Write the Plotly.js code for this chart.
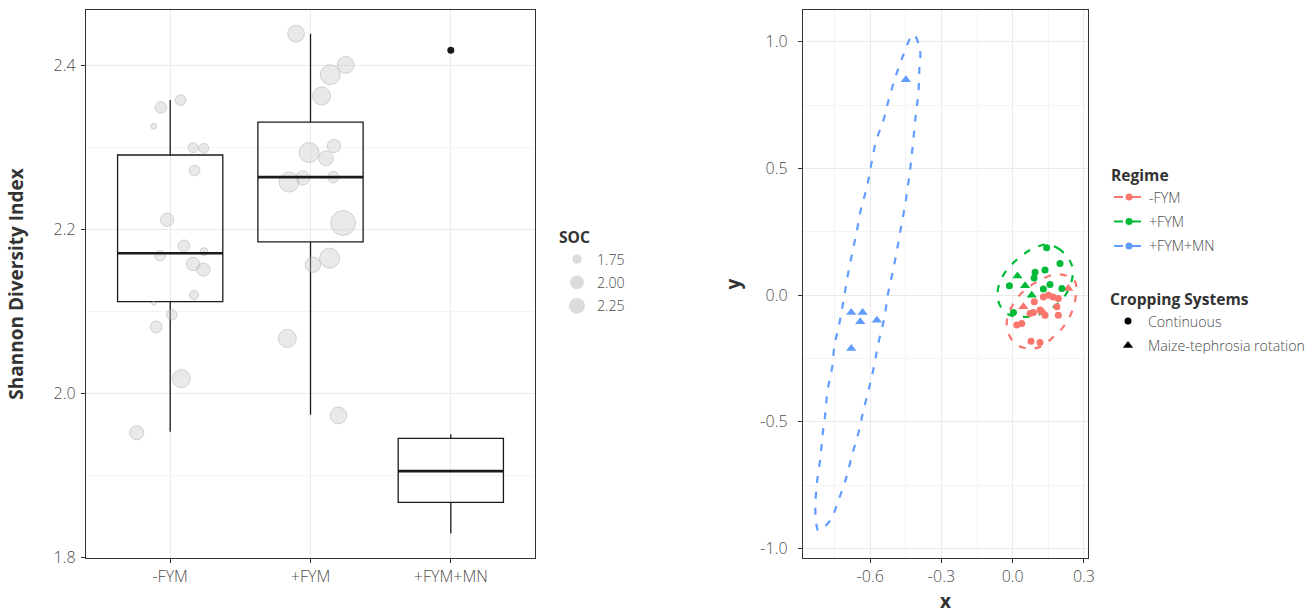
<!DOCTYPE html>
<html>
<head>
<meta charset="utf-8">
<script src="https://cdn.plot.ly/plotly-3.0.1.min.js"></script>
<style>
  html, body { margin: 0; padding: 0; background: #fff; }
  #chart { width: 1311px; height: 614px; }
</style>
</head>
<body>
<div id="chart"></div>
<script>
// ---------- Left panel: Shannon diversity by regime ----------
const regimes = ['-FYM', '+FYM', '+FYM+MN'];

// box summaries per regime
const boxLowerFence = [1.953, 1.974, 1.829];
const boxQ1 = [2.112, 2.185, 1.867];
const boxMedian = [2.171, 2.264, 1.905];
const boxQ3 = [2.291, 2.331, 1.945];
const boxUpperFence = [2.358, 2.439, 1.950];

const outlierRegime = ['+FYM+MN'];
const outlierShannon = [2.419];

// individual plots (jittered), sized by soil organic carbon
const sampleRegime = [
  '-FYM', '-FYM', '-FYM', '-FYM', '-FYM', '-FYM', '-FYM', '-FYM', '-FYM',
  '-FYM', '-FYM', '-FYM', '-FYM', '-FYM', '-FYM', '-FYM', '-FYM', '-FYM',
  '+FYM', '+FYM', '+FYM', '+FYM', '+FYM', '+FYM', '+FYM', '+FYM',
  '+FYM', '+FYM', '+FYM', '+FYM', '+FYM', '+FYM', '+FYM'
];
const sampleJitter = [
  -0.067, 0.074, -0.117, 0.163, 0.239, 0.174, -0.022, 0.098, -0.072,
  0.241, 0.163, 0.237, 0.170, -0.117, 0.010, -0.100, 0.079, -0.239,
  -0.103, 0.251, 0.141, 0.079, -0.010, 0.167, 0.110, -0.055,
  -0.153, 0.163, 0.232, 0.136, 0.017, -0.165, 0.199
];
const sampleShannon = [
  2.349, 2.358, 2.326, 2.300, 2.299, 2.272, 2.212, 2.180, 2.168,
  2.173, 2.158, 2.151, 2.120, 2.110, 2.096, 2.081, 2.018, 1.952,
  2.439, 2.401, 2.389, 2.363, 2.294, 2.302, 2.287, 2.263,
  2.258, 2.264, 2.208, 2.165, 2.157, 2.067, 1.973
];
const sampleSOC = [
  1.85, 1.81, 1.61, 1.77, 1.77, 1.81, 1.97, 1.88, 1.81,
  1.68, 1.97, 1.97, 1.74, 1.56, 1.81, 1.88, 2.34, 2.02,
  2.23, 2.23, 2.53, 2.34, 2.53, 1.97, 2.07, 2.02,
  2.53, 1.85, 3.07, 2.53, 2.12, 2.34, 2.23
];
const socBreaks = [1.75, 2.00, 2.25];

// ---------- Right panel: ordination scores ----------
const ordRegime = [
  '-FYM', '-FYM', '-FYM', '-FYM', '-FYM', '-FYM', '-FYM', '-FYM', '-FYM',
  '-FYM', '-FYM', '-FYM', '-FYM', '-FYM', '-FYM', '-FYM', '-FYM', '-FYM',
  '+FYM', '+FYM', '+FYM', '+FYM', '+FYM', '+FYM', '+FYM', '+FYM', '+FYM',
  '+FYM', '+FYM', '+FYM', '+FYM',
  '+FYM+MN', '+FYM+MN', '+FYM+MN', '+FYM+MN', '+FYM+MN', '+FYM+MN'
];
const ordSystem = [
  'Continuous', 'Continuous', 'Continuous', 'Continuous', 'Continuous',
  'Continuous', 'Continuous', 'Continuous', 'Continuous', 'Continuous',
  'Continuous', 'Continuous', 'Continuous', 'Continuous', 'Continuous',
  'Maize-tephrosia rotation', 'Maize-tephrosia rotation', 'Maize-tephrosia rotation',
  'Continuous', 'Continuous', 'Continuous', 'Continuous', 'Continuous',
  'Continuous', 'Continuous', 'Continuous', 'Continuous', 'Continuous',
  'Maize-tephrosia rotation', 'Maize-tephrosia rotation', 'Maize-tephrosia rotation',
  'Maize-tephrosia rotation', 'Maize-tephrosia rotation', 'Maize-tephrosia rotation',
  'Maize-tephrosia rotation', 'Maize-tephrosia rotation', 'Maize-tephrosia rotation'
];
const ordX = [
  0.129, 0.150, 0.170, 0.192, 0.091, 0.186, 0.192, 0.087, 0.115,
  0.073, 0.038, 0.017, 0.077, 0.115, 0.136, 0.045, 0.234, 0.128,
  0.143, 0.199, 0.094, 0.136, 0.090, 0.157, -0.014, 0.129, 0.207,
  0.003, 0.020, 0.052, 0.080,
  -0.680, -0.632, -0.642, -0.572, -0.680, -0.450
];
const ordY = [
  -0.007, 0.000, -0.007, -0.013, -0.026, -0.046, -0.079, -0.068, -0.059,
  -0.072, -0.112, -0.118, -0.182, -0.187, -0.079, -0.046, 0.026, -0.067,
  0.187, 0.125, 0.090, 0.099, 0.068, 0.042, 0.037, 0.024, 0.026,
  -0.068, 0.076, 0.037, 0.000,
  -0.068, -0.068, -0.105, -0.099, -0.210, 0.850
];

// 95% ellipse outlines per regime
const ellipseMinusFYMX = [0.263, 0.266, 0.249, 0.213, 0.171, 0.115, 0.059, 0.010, -0.018, -0.025, -0.011, 0.017, 0.059, 0.115, 0.178, 0.228, 0.263];
const ellipseMinusFYMY = [0.053, 0.000, -0.066, -0.125, -0.165, -0.204, -0.210, -0.191, -0.151, -0.105, -0.059, -0.013, 0.026, 0.059, 0.082, 0.076, 0.053];
const ellipsePlusFYMX = [0.143, 0.192, 0.234, 0.253, 0.249, 0.230, 0.199, 0.150, 0.101, 0.045, -0.011, -0.046, -0.064, -0.056, -0.025, 0.024, 0.073, 0.115, 0.143];
const ellipsePlusFYMY = [0.200, 0.184, 0.145, 0.105, 0.059, 0.013, -0.026, -0.059, -0.079, -0.086, -0.079, -0.053, -0.007, 0.046, 0.099, 0.145, 0.178, 0.195, 0.200];
const ellipsePlusFYMMNX = [-0.415, -0.390, -0.393, -0.397, -0.408, -0.428, -0.439, -0.453, -0.470, -0.488, -0.506, -0.526, -0.540, -0.565, -0.583, -0.604, -0.628, -0.649, -0.677, -0.701, -0.733, -0.768, -0.818, -0.827, -0.831, -0.824, -0.810, -0.801, -0.789, -0.780, -0.761, -0.750, -0.730, -0.712, -0.696, -0.677, -0.656, -0.639, -0.614, -0.596, -0.575, -0.544, -0.520, -0.491, -0.460, -0.425, -0.415];
const ellipsePlusFYMMNY = [1.028, 0.963, 0.895, 0.800, 0.711, 0.527, 0.446, 0.357, 0.269, 0.174, 0.088, 0.001, -0.088, -0.187, -0.276, -0.364, -0.453, -0.541, -0.633, -0.721, -0.807, -0.888, -0.929, -0.902, -0.834, -0.738, -0.644, -0.555, -0.466, -0.378, -0.289, -0.197, -0.112, -0.020, 0.071, 0.160, 0.255, 0.340, 0.426, 0.514, 0.609, 0.691, 0.779, 0.868, 0.949, 1.024, 1.028];

const systems = ['Continuous', 'Maize-tephrosia rotation'];

// ---------- styling ----------
const FONT = '"Open Sans", "Liberation Sans", "DejaVu Sans", sans-serif';
const TICK_COLOR = '#4d4d4d';
const TITLE_COLOR = '#333333';
const regimeColors = { '-FYM': '#F8766D', '+FYM': '#00BA38', '+FYM+MN': '#619CFF' };
const systemSymbols = { 'Continuous': 'circle', 'Maize-tephrosia rotation': 'triangle-up' };
const BOX_HALF = 0.375;

function socDiameter(s) {
  return Math.sqrt(Math.max(16, 398 * s - 606));
}
const regimeIndex = r => regimes.indexOf(r) + 1;

const traces = [];

// jittered samples
traces.push({
  type: 'scatter', mode: 'markers', xaxis: 'x', yaxis: 'y', showlegend: false,
  x: sampleRegime.map((r, i) => regimeIndex(r) + sampleJitter[i]),
  y: sampleShannon,
  marker: {
    size: sampleSOC.map(socDiameter),
    color: 'rgba(200,200,200,0.55)',
    line: { color: 'rgba(150,150,150,0.55)', width: 1 }
  },
  hoverinfo: 'skip'
});

// boxes
traces.push({
  type: 'box', xaxis: 'x', yaxis: 'y', showlegend: false,
  x: regimes.map(regimeIndex),
  q1: boxQ1, median: boxMedian, q3: boxQ3,
  lowerfence: boxLowerFence, upperfence: boxUpperFence,
  width: 2 * BOX_HALF, whiskerwidth: 0, boxpoints: false,
  fillcolor: 'rgba(0,0,0,0)',
  line: { color: '#1a1a1a', width: 1.3 },
  hoverinfo: 'skip'
});

// heavier median bars
regimes.forEach((r, i) => {
  traces.push({
    type: 'scatter', mode: 'lines', xaxis: 'x', yaxis: 'y', showlegend: false,
    x: [regimeIndex(r) - BOX_HALF, regimeIndex(r) + BOX_HALF],
    y: [boxMedian[i], boxMedian[i]],
    line: { color: '#1a1a1a', width: 2.6 },
    hoverinfo: 'skip'
  });
});

// outlier
traces.push({
  type: 'scatter', mode: 'markers', xaxis: 'x', yaxis: 'y', showlegend: false,
  x: outlierRegime.map(regimeIndex), y: outlierShannon,
  marker: { size: 7, color: '#1a1a1a' }, hoverinfo: 'skip'
});

// SOC size legend
socBreaks.forEach((s, i) => {
  traces.push({
    type: 'scatter', mode: 'markers', xaxis: 'x', yaxis: 'y',
    x: [null], y: [null], name: s.toFixed(2), legend: 'legend3', legendgroup: 'soc' + i,
    marker: { size: socDiameter(s), color: '#dcdcdc' }
  });
});

// ellipses
const ellipses = [
  ['-FYM', ellipseMinusFYMX, ellipseMinusFYMY],
  ['+FYM', ellipsePlusFYMX, ellipsePlusFYMY],
  ['+FYM+MN', ellipsePlusFYMMNX, ellipsePlusFYMMNY]
];
ellipses.forEach(([r, ex, ey]) => {
  traces.push({
    type: 'scatter', mode: 'lines', xaxis: 'x2', yaxis: 'y2', showlegend: false,
    x: ex, y: ey,
    line: { color: regimeColors[r], width: 2.2, dash: '7px,9px', shape: 'spline', smoothing: 1 },
    hoverinfo: 'skip'
  });
});

// ordination points
regimes.forEach(r => {
  systems.forEach(sys => {
    const idx = ordRegime.map((v, i) => i).filter(i => ordRegime[i] === r && ordSystem[i] === sys);
    if (!idx.length) return;
    traces.push({
      type: 'scatter', mode: 'markers', xaxis: 'x2', yaxis: 'y2', showlegend: false,
      x: idx.map(i => ordX[i]), y: idx.map(i => ordY[i]),
      marker: { color: regimeColors[r], symbol: systemSymbols[sys], size: sys === 'Continuous' ? 7 : 9 },
      hoverinfo: 'skip'
    });
  });
});

// Regime legend
regimes.forEach((r, i) => {
  traces.push({
    type: 'scatter', mode: 'lines+markers', xaxis: 'x2', yaxis: 'y2',
    x: [null], y: [null], name: r, legend: 'legend', legendgroup: 'reg' + i,
    line: { color: regimeColors[r], width: 2, dash: 'dash' },
    marker: { color: regimeColors[r], size: 7 }
  });
});

// Cropping system legend
systems.forEach((sys, i) => {
  traces.push({
    type: 'scatter', mode: 'markers', xaxis: 'x2', yaxis: 'y2',
    x: [null], y: [null], name: sys, legend: 'legend2', legendgroup: 'sys' + i,
    marker: { color: '#000', symbol: systemSymbols[sys], size: sys === 'Continuous' ? 7 : 9 }
  });
});

const W = 1311, H = 614;
const px = v => v / W;
const py = v => 1 - v / H;

const tickFont = { family: FONT, size: 16, color: TICK_COLOR, weight: 300 };
const titleFont = { family: FONT, size: 19, color: TITLE_COLOR, weight: 'bold' };

const axisBase = {
  showline: true, mirror: true, linecolor: '#333333', linewidth: 1.2,
  ticks: 'outside', ticklen: 4, tickcolor: '#333333', tickwidth: 1,
  gridcolor: '#ebebeb', gridwidth: 1, zeroline: false,
  tickfont: tickFont,
  automargin: false
};
const legendBase = {
  bgcolor: 'rgba(0,0,0,0)', borderwidth: 0,
  font: { family: FONT, size: 14.2, color: TICK_COLOR, weight: 300 },
  xanchor: 'left', yanchor: 'top', itemsizing: 'trace',
  traceorder: 'grouped', tracegroupgap: 3
};
const legendTitleFont = { family: FONT, size: 15.6, color: TITLE_COLOR, weight: 'bold' };

const layout = {
  width: W, height: H,
  margin: { l: 0, r: 0, t: 0, b: 0, autoexpand: false },
  paper_bgcolor: '#ffffff', plot_bgcolor: '#ffffff',
  font: { family: FONT },
  xaxis: Object.assign({}, axisBase, {
    domain: [px(86), px(535)], anchor: 'y',
    range: [0.4, 3.6], tickvals: regimes.map(regimeIndex), ticktext: regimes
  }),
  yaxis: Object.assign({}, axisBase, {
    domain: [py(558), py(10)], anchor: 'x', ticklabelstandoff: 2,
    range: [1.799, 2.468], tickvals: [1.8, 2.0, 2.2, 2.4], ticktext: ['1.8', '2.0', '2.2', '2.4'],
    minor: { dtick: 0.1, tick0: 1.8, showgrid: true, gridcolor: '#f4f4f4', gridwidth: 1 },
    title: { text: 'Shannon Diversity Index', standoff: 24, font: titleFont }
  }),
  xaxis2: Object.assign({}, axisBase, {
    domain: [px(803), px(1088)], anchor: 'y2',
    range: [-0.883, 0.317], tickvals: [-0.6, -0.3, 0, 0.3], ticktext: ['-0.6', '-0.3', '0.0', '0.3'],
    minor: { dtick: 0.15, tick0: -0.75, showgrid: true, gridcolor: '#f4f4f4', gridwidth: 1 },
    title: { text: 'x', standoff: 13, font: titleFont }
  }),
  yaxis2: Object.assign({}, axisBase, {
    domain: [py(558), py(10)], anchor: 'x2', ticklabelstandoff: 7,
    range: [-1.037, 1.125], tickvals: [-1, -0.5, 0, 0.5, 1], ticktext: ['-1.0', '-0.5', '0.0', '0.5', '1.0'],
    minor: { dtick: 0.25, tick0: -0.75, showgrid: true, gridcolor: '#f4f4f4', gridwidth: 1 },
    title: { text: 'y', standoff: 14, font: titleFont }
  }),
  legend: Object.assign({}, legendBase, {
    x: px(1109), y: py(161),
    title: { text: 'Regime', font: legendTitleFont }
  }),
  legend2: Object.assign({}, legendBase, {
    x: px(1108), y: py(285),
    title: { text: 'Cropping Systems', font: legendTitleFont }
  }),
  legend3: Object.assign({}, legendBase, {
    x: px(557), y: py(223), tracegroupgap: 2,
    title: { text: 'SOC', font: legendTitleFont }
  }),
  showlegend: true
};

Plotly.newPlot('chart', traces, layout, { displayModeBar: false, staticPlot: true });
</script>
</body>
</html>
